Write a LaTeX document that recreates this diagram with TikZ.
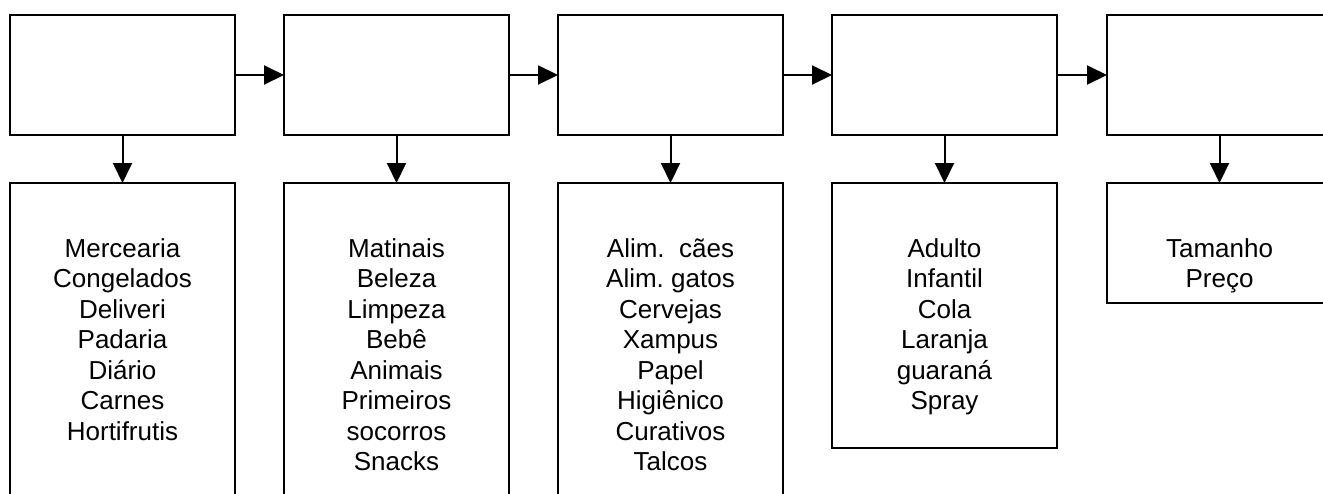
\documentclass[tikz,border=0pt]{standalone}
\usepackage{fontspec}
\setmainfont{Liberation Sans}
\usetikzlibrary{arrows.meta,calc}
\begin{document}
\begin{tikzpicture}[x=1pt,y=-1pt,
  box/.style={draw,line width=2pt,minimum width=225pt,inner sep=0pt,outer sep=0pt,anchor=north west},
  arr/.style={line width=2pt,-{Triangle[length=20pt,width=19pt]}},
  lbl/.style={align=center,font=\fontsize{26}{30.5}\selectfont,inner sep=0pt,anchor=base}]
\useasboundingbox (0,0) rectangle (1323,493);
\clip (0,0) rectangle (1323,493);
% top row
\node[box,minimum height=120pt] (t1) at (10,15) {};
\node[box,minimum height=120pt] (t2) at (284,15) {};
\node[box,minimum height=120pt] (t3) at (558,15) {};
\node[box,minimum height=120pt] (t4) at (832,15) {};
\node[box,minimum height=120pt] (t5) at (1107,15) {};
% bottom row
\node[box,minimum height=340pt] (b1) at (10,183) {};
\node[box,minimum height=340pt] (b2) at (284,183) {};
\node[box,minimum height=340pt] (b3) at (558,183) {};
\node[box,minimum height=265pt] (b4) at (832,183) {};
\node[box,minimum height=120pt] (b5) at (1107,183) {};
% arrows
\draw[arr] (t1.east) -- (t2.west);
\draw[arr] (t2.east) -- (t3.west);
\draw[arr] (t3.east) -- (t4.west);
\draw[arr] (t4.east) -- (t5.west);
\draw[arr] (t1.south) -- (b1.north);
\draw[arr] (t2.south) -- (b2.north);
\draw[arr] (t3.south) -- (b3.north);
\draw[arr] (t4.south) -- (b4.north);
\draw[arr] (t5.south) -- (b5.north);
% labels (anchored at the baseline of their last line)
\node[lbl] (l1) at ($(b1.north)+(0,257)$) {Mercearia\\Congelados\\Deliveri\\Padaria\\Diário\\Carnes\\Hortifrutis};
\node[lbl] (l2) at ($(b2.north)+(0,287.5)$) {Matinais\\Beleza\\Limpeza\\Bebê\\Animais\\Primeiros\\socorros\\Snacks};
\node[lbl] (l3) at ($(b3.north)+(0,287.5)$) {Alim.\ \ cães\\Alim.\ gatos\\Cervejas\\Xampus\\Papel\\Higiênico\\Curativos\\Talcos};
\node[lbl] (l4) at ($(b4.north)+(0,226.5)$) {Adulto\\Infantil\\Cola\\Laranja\\guaraná\\Spray};
\node[lbl] (l5) at ($(b5.north)+(0,104.5)$) {Tamanho\\Preço};
\end{tikzpicture}
\end{document}
